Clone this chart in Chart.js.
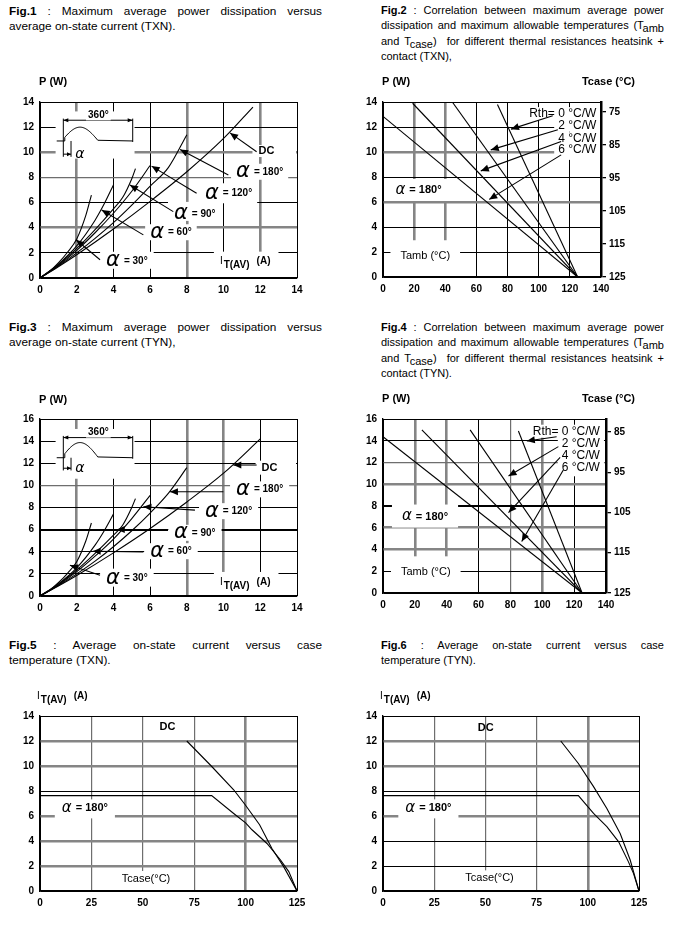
<!DOCTYPE html>
<html>
<head>
<meta charset="utf-8">
<script src="https://cdn.jsdelivr.net/npm/chart.js@4.4.1/dist/chart.umd.min.js"></script>
<style>
  body { margin:0; width:684px; height:927px; background:#fff; position:relative; overflow:hidden;
         font-family:'Liberation Sans', Arial, Helvetica, sans-serif; color:#000; }
  canvas { position:absolute; }
  .cap { position:absolute; font-size:11px; line-height:15.3px; }
  .cap.l { font-size:11.8px; line-height:14.6px; }
  .cap .j { text-align:justify; text-align-last:justify; }
  .sb { position:relative; top:3px; }
</style>
</head>
<body>

<div class="cap l" style="left:9px;top:4px;width:313px">
  <div class="j"><b>Fig.1</b> : Maximum average power dissipation versus</div>
  <div>average on-state current (TXN).</div>
</div>
<div class="cap" style="left:381px;top:3px;width:283px">
  <div class="j"><b>Fig.2</b> : Correlation between maximum average power</div>
  <div class="j">dissipation and maximum allowable temperatures (T<span class="sb">amb</span></div>
  <div class="j">and T<span class="sb">case</span>)&nbsp; for different thermal resistances heatsink +</div>
  <div>contact (TXN),</div>
</div>
<div class="cap l" style="left:9px;top:320px;width:313px">
  <div class="j"><b>Fig.3</b> : Maximum average power dissipation versus</div>
  <div>average on-state current (TYN),</div>
</div>
<div class="cap" style="left:381px;top:320px;width:283px">
  <div class="j"><b>Fig.4</b> : Correlation between maximum average power</div>
  <div class="j">dissipation and maximum allowable temperatures (T<span class="sb">amb</span></div>
  <div class="j">and T<span class="sb">case</span>)&nbsp; for different thermal resistances heatsink +</div>
  <div>contact (TYN).</div>
</div>
<div class="cap l" style="left:9px;top:638px;width:313px">
  <div class="j"><b>Fig.5</b> : Average on-state current versus case</div>
  <div>temperature (TXN).</div>
</div>
<div class="cap" style="left:381px;top:638px;width:283px">
  <div class="j"><b>Fig.6</b> : Average on-state current versus case</div>
  <div>temperature (TYN).</div>
</div>

<canvas id="c1" width="330" height="232" style="left:0;top:70px"></canvas>
<canvas id="c2" width="344" height="232" style="left:340px;top:70px"></canvas>
<canvas id="c3" width="330" height="232" style="left:0;top:390px"></canvas>
<canvas id="c4" width="344" height="232" style="left:340px;top:390px"></canvas>
<canvas id="c5" width="330" height="240" style="left:0;top:686px"></canvas>
<canvas id="c6" width="344" height="240" style="left:340px;top:686px"></canvas>

<script>
// ---- data: [x, y] points ----
// Fig.1 TXN : P (W) vs IT(AV) (A)
const f1A30  = [[0,0],[0.5,0.5],[1,1.2],[1.5,2.05],[2,3.1],[2.5,5.0],[2.8,6.6]];
const f1A60  = [[0,0],[1,1.1],[2,2.55],[3,4.6],[3.5,5.9],[4,7.4]];
const f1A90  = [[0,0],[1,1.05],[2,2.35],[3,3.85],[4,5.5],[4.5,6.4],[5,7.9],[5.2,8.7]];
const f1A120 = [[0,0],[1,1.0],[2,2.2],[3,3.6],[4,5.15],[5,6.9],[6,8.95]];
const f1A180 = [[0,0],[1,0.95],[2,2.0],[3,3.15],[4,4.4],[5,5.8],[6,7.3],[7,8.8],[8,11.4]];
const f1DC   = [[0,0],[1,0.9],[2,1.85],[4,3.9],[6,6.1],[8,8.45],[10,11.1],[11.6,13.6]];

// Fig.3 TYN : P (W) vs IT(AV) (A)
const f3A30  = [[0,0],[0.5,0.5],[1,1.2],[1.5,2.05],[2,3.1],[2.5,5.0],[2.8,6.6]];
const f3A60  = [[0,0],[1,1.1],[2,2.55],[3,4.6],[3.5,5.9],[4,7.4]];
const f3A90  = [[0,0],[1,1.05],[2,2.35],[3,3.85],[4,5.5],[4.5,6.4],[5,8.0],[5.2,8.8]];
const f3A120 = [[0,0],[1,1.0],[2,2.2],[3,3.6],[4,5.15],[5,7.0],[6,9.1]];
const f3A180 = [[0,0],[1,0.95],[2,2.0],[3,3.15],[4,4.45],[5,5.9],[6,7.5],[7,9.3],[8,11.6]];
const f3DC   = [[0,0],[1,0.9],[2,1.85],[4,3.9],[6,6.1],[8,8.5],[10,11.1],[12,14.2]];

// Fig.2 TXN : P (W) vs Tamb (°C), one line per Rth heatsink + contact
const f2Rth0 = [[73.5,13.8],[125,0]];
const f2Rth2 = [[44.5,14.0],[125,0]];
const f2Rth4 = [[19,13.9],[125,0]];
const f2Rth6 = [[0,12.85],[125,0]];
const f2CaseTicks = [75, 85, 95, 105, 115, 125];

// Fig.4 TYN
const f4Rth0 = [[85,14.9],[125,0]];
const f4Rth2 = [[54.7,15.0],[125,0]];
const f4Rth4 = [[24.4,15.0],[125,0]];
const f4Rth6 = [[0,14.37],[125,0]];
const f4CaseTicks = [85, 95, 105, 115, 125];

// Fig.5 TXN : IT(AV) (A) vs Tcase (°C)
const f5DC   = [[71.4,12],[83.3,10],[94.2,8.1],[99.8,6.9],[106.8,5.3],[112.8,3.4],[118.5,1.95],[125,0]];
const f5A180 = [[0,7.63],[83.5,7.63],[94.2,6.2],[100,5.45],[103.1,4.9],[110.4,3.8],[116.9,2.5],[121,1.55],[125,0]];

// Fig.6 TYN
const f6DC   = [[86.8,12],[95.4,10.2],[102.8,8.35],[109.3,6.6],[115.8,4.6],[120.7,2.48],[125,0]];
const f6A180 = [[0,7.63],[95.4,7.63],[102.8,6.21],[109.3,5.15],[115,3.95],[119.8,2.35],[122.3,1.41],[125,0]];

// ---- styles ----
const F = "'Liberation Sans', Arial, Helvetica, sans-serif";
const fnt = (w, s) => `${w} ${s}px ${F}`;
const GR = s => `italic ${s}px 'DejaVu Sans', sans-serif`;
Chart.defaults.font.family = F;
Chart.defaults.color = '#000';

const GRID = { k:['#000',1], K:['#000',2], g:['#858585',2.6], t:['#6e6e6e',1.2] };
const styleOf = (map, c) => GRID[(c.tick && map[c.tick.value]) || 'k'];

function alphaParts(deg, big, small) {
  return [{t:'α', f:GR(big), gap:4}, {t:'= ' + deg + '°', f:fnt('bold', small)}];
}
const itav = () => [{t:'I', f:fnt('normal',10), gap:1}, {t:'T(AV)', f:fnt('bold',10), dy:4, gap:7}, {t:'(A)', f:fnt('bold',10)}];
const txt = (t, w, s) => [{t, f:fnt(w, s)}];

function measure(ctx, parts) {
  let w = 0;
  parts.forEach(p => { ctx.font = p.f; p.w = ctx.measureText(p.t).width; w += p.w + (p.gap || 0); });
  return w;
}
function drawParts(ctx, x, y, parts, align) {
  const w = measure(ctx, parts);
  let cx = align === 'right' ? x - w : align === 'center' ? x - w / 2 : x;
  ctx.fillStyle = '#000'; ctx.textBaseline = 'middle'; ctx.textAlign = 'left';
  parts.forEach(p => { ctx.font = p.f; ctx.fillText(p.t, cx, y + (p.dy || 0)); cx += p.w + (p.gap || 0); });
}
function clipArea(ch) {
  const a = ch.chartArea, ctx = ch.ctx;
  ctx.beginPath(); ctx.rect(a.left + 1, a.top + 1, a.right - a.left - 2, a.bottom - a.top - 2); ctx.clip();
}
function head(ctx, x1, y1, x2, y2, len, hw) {
  const ang = Math.atan2(y2 - y1, x2 - x1);
  ctx.beginPath();
  ctx.moveTo(x2, y2);
  ctx.lineTo(x2 - len * Math.cos(ang) + hw * Math.sin(ang), y2 - len * Math.sin(ang) - hw * Math.cos(ang));
  ctx.lineTo(x2 - len * Math.cos(ang) - hw * Math.sin(ang), y2 - len * Math.sin(ang) + hw * Math.cos(ang));
  ctx.closePath(); ctx.fill();
}

// inset sketch of the conduction waveform (Fig.1 / Fig.3)
function drawInset(ch, s) {
  const X = v => ch.scales.x.getPixelForValue(v), Y = v => ch.scales.y.getPixelForValue(v);
  const ctx = ch.ctx;
  ctx.save();
  clipArea(ch);
  ctx.fillStyle = '#fff';
  ctx.fillRect(X(s.box[0]), Y(s.box[3]), X(s.box[1]) - X(s.box[0]), Y(s.box[2]) - Y(s.box[3]));
  ctx.restore();
  ctx.save();
  ctx.strokeStyle = '#000'; ctx.fillStyle = '#000'; ctx.lineWidth = 1;
  const xs = X(1.18), xe = X(3.18), yb = Y(s.yb), amp = Y(s.yb) - Y(s.yp);
  ctx.beginPath();
  ctx.moveTo(X(0.91), yb); ctx.lineTo(X(1.35), yb);
  for (let px = X(1.35); px <= xe; px += 1) {
    ctx.lineTo(px, yb - amp * Math.sin(Math.PI * (px - xs) / (xe - xs)));
  }
  ctx.lineTo(X(5.05), yb);
  ctx.moveTo(X(5.05), Y(s.yt)); ctx.lineTo(X(5.05), yb + 1);
  ctx.moveTo(X(1.27), Y(s.yt)); ctx.lineTo(X(1.27), Y(s.yal));
  ctx.moveTo(X(1.69), yb); ctx.lineTo(X(1.69), Y(s.yal));
  ctx.moveTo(X(1.27), Y(s.yd)); ctx.lineTo(X(5.05), Y(s.yd));
  ctx.moveTo(X(1.27), Y(s.ya)); ctx.lineTo(X(1.69), Y(s.ya));
  ctx.stroke();
  head(ctx, X(3), Y(s.yd), X(5.05), Y(s.yd), 5, 2);
  head(ctx, X(3), Y(s.yd), X(1.27), Y(s.yd), 5, 2);
  head(ctx, X(1.5), Y(s.ya), X(1.69), Y(s.ya), 4, 2);
  // 360° text with white backing
  ctx.font = fnt('bold', 10);
  const tw = ctx.measureText('360°').width;
  ctx.fillStyle = '#fff';
  ctx.fillRect(X(3.18) - tw / 2 - 2, Y(s.textY) - 6, tw + 4, 11);
  drawParts(ctx, X(3.18), Y(s.textY), txt('360°', 'bold', 10), 'center');
  drawParts(ctx, X(1.92), Y(s.ya), [{t:'α', f:GR(14)}], 'left');
  ctx.restore();
}

function makeChart(id, s) {
  const ds = s.series.map(d => ({
    data: d.pts.map(p => ({x:p[0], y:p[1]})),
    showLine: true, borderColor: '#000', borderWidth: 1.1, pointRadius: 0,
    tension: d.smooth ? 0.4 : 0, cubicInterpolationMode: d.smooth ? 'monotone' : 'default'
  }));
  const tickFont = {size:10, weight:'bold', family:F};
  const scales = {
    x: { type:'linear', min:s.x[0], max:s.x[1],
      ticks:{stepSize:s.x[2], font:tickFont, color:'#000', padding:6, maxRotation:0, autoSkip:false},
      grid:{drawTicks:false, color:c => styleOf(s.gx, c)[0], lineWidth:c => styleOf(s.gx, c)[1]},
      border:{color:'#000', width:1.3},
      afterFit: sc => { sc.height = s.xh; } },
    y: { type:'linear', position:'left', min:s.y[0], max:s.y[1],
      ticks:{stepSize:s.y[2], font:tickFont, color:'#000', padding:6, autoSkip:false},
      grid:{drawTicks:false, color:c => styleOf(s.gy, c)[0], lineWidth:c => styleOf(s.gy, c)[1]},
      border:{color:'#000', width:1.3},
      afterFit: sc => { sc.width = s.yw; } }
  };
  if (s.right) {
    scales.y2 = { type:'linear', position:'right', reverse:true, min:s.right.min, max:125,
      afterBuildTicks: ax => { ax.ticks = s.right.ticks.map(v => ({value:v})); },
      ticks:{font:tickFont, color:'#000', padding:3},
      grid:{drawOnChartArea:false, color:'#000', lineWidth:1.3, tickLength:5},
      border:{color:'#000', width:2.5},
      afterFit: sc => { sc.width = s.right.w; } };
  }
  new Chart(document.getElementById(id), {
    type:'scatter',
    data:{datasets:ds},
    options:{
      responsive:false, animation:false, events:[],
      layout:{padding:{top:s.padTop, right:s.padRight, left:0, bottom:0}},
      plugins:{legend:{display:false}, tooltip:{enabled:false}},
      scales
    },
    plugins:[{
      id:'deco',
      beforeDatasetsDraw(ch) {
        const ctx = ch.ctx, X = v => ch.scales.x.getPixelForValue(v), Y = v => ch.scales.y.getPixelForValue(v);
        if (s.inset) drawInset(ch, s.inset);
        ctx.save();
        clipArea(ch);
        ctx.fillStyle = '#fff';
        s.labels.forEach(L => {
          if (!L.box) return;
          const w = measure(ctx, L.parts);
          const x0 = L.align === 'right' ? X(L.x) - w : X(L.x);
          const b = L.box;
          ctx.fillRect(x0 - b[0], Y(L.y) - b[1], w + b[0] + b[2], b[1] + b[3]);
        });
        ctx.restore();
        ctx.save();
        s.labels.forEach(L => drawParts(ctx, X(L.x), Y(L.y), L.parts, L.align));
        ctx.restore();
      },
      afterDatasetsDraw(ch) {
        const ctx = ch.ctx, X = v => ch.scales.x.getPixelForValue(v), Y = v => ch.scales.y.getPixelForValue(v);
        ctx.save();
        ctx.strokeStyle = '#000'; ctx.fillStyle = '#000'; ctx.lineWidth = 1.1;
        s.arrows.forEach(a => {
          ctx.beginPath(); ctx.moveTo(X(a[0]), Y(a[1])); ctx.lineTo(X(a[2]), Y(a[3])); ctx.stroke();
          head(ctx, X(a[0]), Y(a[1]), X(a[2]), Y(a[3]), 8, 3.5);
        });
        ctx.restore();
      },
      afterDraw(ch) {
        const a = ch.chartArea, ctx = ch.ctx;
        ctx.save();
        s.titles.forEach(t => drawParts(ctx, (t.side === 'right' ? a.right : a.left) + t.dx, a.top + t.dy, t.parts, t.align));
        ctx.restore();
      }
    }]
  });
}

// ---- Fig.1 ----
makeChart('c1', {
  x:[0,14,2], y:[0,14,2], yw:40, xh:24, padTop:32, padRight:33,
  gx:{0:'k',2:'g',4:'k',6:'k',8:'g',10:'k',12:'g',14:'k'},
  gy:{0:'k',2:'k',4:'g',6:'k',8:'t',10:'g',12:'k',14:'k'},
  series:[{pts:f1A30,smooth:1},{pts:f1A60,smooth:1},{pts:f1A90,smooth:1},{pts:f1A120,smooth:1},{pts:f1A180,smooth:1},{pts:f1DC,smooth:1}],
  inset:{yb:10.9, yp:12.0, yd:12.55, yt:12.68, ya:9.85, yal:9.64, textY:12.94, box:[0.85,5.15,9.5,13.25]},
  labels:[
    {x:11.9, y:10.1, parts:txt('DC','bold',11), box:[6,6,30,6]},
    {x:10.68, y:8.45, parts:alphaParts(180,21,10), box:[5,8,5,8]},
    {x:8.99, y:6.74, parts:alphaParts(120,21,10), box:[5,10,5,10]},
    {x:7.3, y:5.1, parts:alphaParts(90,21,10), box:[6,12,6,7]},
    {x:6.0, y:3.64, parts:alphaParts(60,21,10), box:[5,8,5,8]},
    {x:3.6, y:1.37, parts:alphaParts(30,21,10), box:[6,9,6,8]},
    {x:9.8, y:1.3, parts:itav(), box:[6,10,8,20]}
  ],
  arrows:[[11.8,10.04,10.35,11.54],[10.26,8.19,7.63,10.22],[8.53,6.74,6.08,8.9],[7.26,5.28,4.9,7.4],[5.63,3.43,3.36,5.41],[3.27,1.45,1.96,3.04]],
  titles:[{dx:-1, dy:-20, parts:txt('P (W)','bold',11)}]
});

// ---- Fig.2 ----
makeChart('c2', {
  x:[0,140,20], y:[0,14,2], yw:43, xh:25, padTop:32, padRight:0,
  right:{min:72, ticks:f2CaseTicks, w:83},
  gx:{0:'k',20:'g',40:'g',60:'k',80:'k',100:'k',120:'k',140:'k'},
  gy:{0:'k',2:'k',4:'k',6:'g',8:'k',10:'g',12:'k',14:'k'},
  series:[{pts:f2Rth0},{pts:f2Rth2},{pts:f2Rth4},{pts:f2Rth6}],
  labels:[
    {x:137, y:13.03, align:'right', parts:txt('Rth= 0 °C/W','normal',12), box:[4,7,4,6]},
    {x:137, y:12.1, align:'right', parts:txt('2 °C/W','normal',12), box:[4,6,4,6]},
    {x:137, y:11.1, align:'right', parts:txt('4 °C/W','normal',12), box:[4,6,4,6]},
    {x:137, y:10.17, align:'right', parts:txt('6 °C/W','normal',12), box:[4,6,4,10]},
    {x:8, y:6.96, parts:alphaParts(180,15,11), box:[10,11,10,11]},
    {x:11.2, y:1.66, parts:txt('Tamb (°C)','normal',11), box:[10,16,10,22]}
  ],
  arrows:[[109,12.9,82.2,11.83],[112.3,11.78,69.2,10.17],[114.4,10.84,62.8,8.49],[114.4,9.77,68.2,6.21]],
  titles:[{dx:-1, dy:-20, parts:txt('P (W)','bold',11)},
          {side:'right', dx:34, dy:-20, align:'right', parts:txt('Tcase (°C)','bold',11)}]
});

// ---- Fig.3 ----
makeChart('c3', {
  x:[0,14,2], y:[0,16,2], yw:40, xh:26, padTop:29, padRight:33,
  gx:{0:'k',2:'g',4:'k',6:'k',8:'g',10:'g',12:'k',14:'k'},
  gy:{0:'k',2:'k',4:'k',6:'K',8:'k',10:'t',12:'k',14:'k',16:'k'},
  series:[{pts:f3A30,smooth:1},{pts:f3A60,smooth:1},{pts:f3A90,smooth:1},{pts:f3A120,smooth:1},{pts:f3A180,smooth:1},{pts:f3DC,smooth:1}],
  inset:{yb:12.5, yp:13.87, yd:14.32, yt:14.47, ya:11.55, yal:11.35, textY:14.77, box:[0.85,5.15,10.6,15.1]},
  labels:[
    {x:12.07, y:11.6, parts:txt('DC','bold',11), box:[6,7,30,7]},
    {x:10.68, y:9.64, parts:alphaParts(180,21,10), box:[6,8,6,8]},
    {x:8.99, y:7.67, parts:alphaParts(120,21,10), box:[6,8,6,8]},
    {x:7.3, y:5.71, parts:alphaParts(90,21,10), box:[6,8,6,8]},
    {x:6.0, y:4.05, parts:alphaParts(60,21,10), box:[6,8,6,8]},
    {x:3.6, y:1.57, parts:alphaParts(30,21,10), box:[6,10,6,8]},
    {x:9.8, y:1.27, parts:itav(), box:[6,10,8,20]}
  ],
  arrows:[[11.8,11.84,10.53,11.84],[9.99,9.43,7.08,9.43],[8.44,7.76,5.63,8.07],[6.99,6.01,4.18,6.01],[5.63,3.99,2.87,4.05],[3.27,1.87,1.63,2.78]],
  titles:[{dx:-1, dy:-19, parts:txt('P (W)','bold',11)}]
});

// ---- Fig.4 ----
makeChart('c4', {
  x:[0,140,20], y:[0,16,2], yw:43, xh:29, padTop:29, padRight:0,
  right:{min:81.8, ticks:f4CaseTicks, w:78},
  gx:{0:'k',20:'g',40:'g',60:'k',80:'t',100:'g',120:'k',140:'k'},
  gy:{0:'k',2:'k',4:'g',6:'g',8:'K',10:'g',12:'t',14:'k',16:'k'},
  series:[{pts:f4Rth0},{pts:f4Rth2},{pts:f4Rth4},{pts:f4Rth6}],
  labels:[
    {x:136.2, y:14.83, align:'right', parts:txt('Rth= 0 °C/W','normal',12), box:[4,7,4,6]},
    {x:136.2, y:13.76, align:'right', parts:txt('2 °C/W','normal',12), box:[4,6,4,6]},
    {x:136.2, y:12.66, align:'right', parts:txt('4 °C/W','normal',12), box:[4,6,4,6]},
    {x:136.2, y:11.56, align:'right', parts:txt('6 °C/W','normal',12), box:[4,6,4,9]},
    {x:11.9, y:7.03, parts:alphaParts(180,15,11), box:[10,12,10,11]},
    {x:11.3, y:1.9, parts:txt('Tamb (°C)','normal',11), box:[10,16,10,22]}
  ],
  arrows:[[109,14.37,90.3,13.98],[110.1,13.46,78.8,10.76],[111.2,12.48,78.8,7.4],[113.2,11.31,87.1,4.74]],
  titles:[{dx:-1, dy:-20, parts:txt('P (W)','bold',11)},
          {side:'right', dx:29, dy:-20, align:'right', parts:txt('Tcase (°C)','bold',11)}]
});

// ---- Fig.5 ----
makeChart('c5', {
  x:[0,125,25], y:[0,14,2], yw:40, xh:35, padTop:30, padRight:33,
  gx:{0:'k',25:'t',50:'t',75:'t',100:'g',125:'k'},
  gy:{0:'k',2:'g',4:'g',6:'g',8:'k',10:'g',12:'g',14:'k'},
  series:[{pts:f5DC},{pts:f5A180}],
  labels:[
    {x:58.1, y:13.1, parts:txt('DC','bold',11)},
    {x:10.6, y:6.61, parts:alphaParts(180,15,11), box:[7,9,7,10]},
    {x:39.8, y:0.96, parts:txt('Tcase(°C)','normal',11), box:[4,8,4,20]}
  ],
  arrows:[],
  titles:[{dx:-3, dy:-20, parts:itav()}]
});

// ---- Fig.6 ----
makeChart('c6', {
  x:[0,125,25], y:[0,14,2], yw:43, xh:35, padTop:30, padRight:45,
  gx:{0:'k',25:'t',50:'t',75:'t',100:'g',125:'k'},
  gy:{0:'k',2:'k',4:'k',6:'g',8:'k',10:'g',12:'g',14:'k'},
  series:[{pts:f6DC},{pts:f6A180}],
  labels:[
    {x:46.3, y:13.07, parts:txt('DC','bold',11)},
    {x:10.9, y:6.61, parts:alphaParts(180,15,11), box:[7,9,7,10]},
    {x:40.2, y:1.01, parts:txt('Tcase(°C)','normal',11), box:[4,8,4,20]}
  ],
  arrows:[],
  titles:[{dx:-3, dy:-20, parts:itav()}]
});
</script>
</body>
</html>
